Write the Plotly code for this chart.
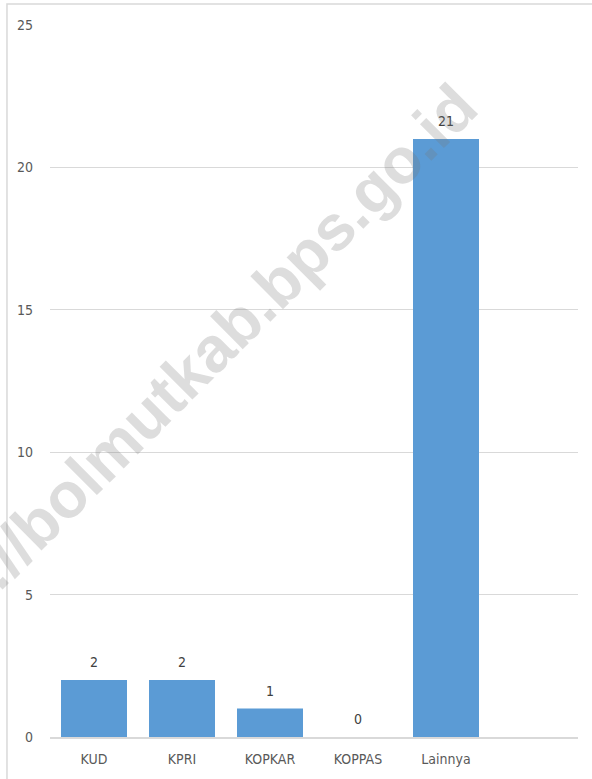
import plotly.graph_objects as go

# jumlah koperasi menurut jenis
categories = ['KUD', 'KPRI', 'KOPKAR', 'KOPPAS', 'Lainnya']
values = [2, 2, 1, 0, 21]
y_ticks = [0, 5, 10, 15, 20, 25]

label_font = "Liberation Sans Narrow, DejaVu Sans Condensed, Roboto, sans-serif"

fig = go.Figure()
fig.add_trace(go.Bar(x=categories, y=values, marker={'color': '#5B9BD5', 'line': {'width': 0}},
                     hoverinfo='x+y'))

# data labels above the bars
for c, v in zip(categories, values):
    fig.add_annotation(x=c, y=v, text=str(v), showarrow=False, yanchor='middle', yshift=18,
                       font={'family': label_font, 'size': 14, 'color': '#404040'})

# watermark
fig.add_annotation(xref='paper', yref='paper', x=0.225, y=0.485, xanchor='center', yanchor='middle',
                   text='https://bolmutkab.bps.go.id', showarrow=False, textangle=-45,
                   font={'family': 'Liberation Sans, Arial, sans-serif', 'size': 64,
                         'color': 'rgba(120,120,120,0.25)', 'weight': 'bold'})

# outer frame
fig.add_shape(type='rect', xref='paper', yref='paper', x0=-0.0815, x1=1.2, y0=-0.2, y1=1.0295,
              line={'color': '#d9d9d9', 'width': 1.5}, layer='below')

fig.update_layout(width=592, height=779, margin={'l': 50, 'r': 14, 't': 25, 'b': 42},
                  plot_bgcolor='white', paper_bgcolor='white', bargap=0.25, showlegend=False,
                  font={'family': label_font, 'size': 14, 'color': '#595959'})
fig.update_xaxes(range=[-0.5, 5.5], showgrid=False, showline=True, linecolor='#d9d9d9', linewidth=2,
                 ticks='', ticklabelstandoff=8, automargin=False,
                 tickfont={'size': 14, 'color': '#595959'})
fig.update_yaxes(range=[0, 25], tickvals=y_ticks, showgrid=True, gridcolor='#d9d9d9', gridwidth=1,
                 zeroline=False, showline=False, ticks='', ticklabelstandoff=16, automargin=False,
                 tickfont={'size': 14, 'color': '#595959'})

# the page body has an 8px default margin; drop it so the figure fills the window
fig.write_html("out.html", config={'displayModeBar': False},
               post_script="document.body.style.margin='0';")
